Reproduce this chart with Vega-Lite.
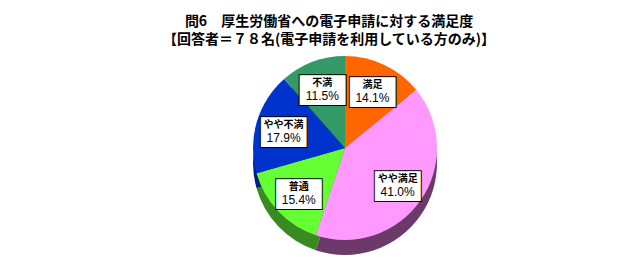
{
  "$schema": "https://vega.github.io/schema/vega-lite/v6.json",
  "width": 576,
  "height": 184,
  "autosize": "none",
  "padding": {"left": 57, "top": 56, "right": 0, "bottom": 38},
  "background": "white",
  "config": {"view": {"stroke": null}},
  "title": {
    "text": ["問6　厚生労働省への電子申請に対する満足度", "【回答者＝７８名(電子申請を利用している方のみ)】"],
    "font": "Noto Sans CJK JP",
    "fontSize": 14,
    "fontWeight": "bold",
    "color": "black",
    "lineHeight": 18,
    "offset": 9,
    "dx": -16,
    "anchor": "middle"
  },
  "data": {
    "values": [
      {"label": "満足", "pct": 14.1, "ord": 1},
      {"label": "やや満足", "pct": 41.0, "ord": 2},
      {"label": "普通", "pct": 15.4, "ord": 3},
      {"label": "やや不満", "pct": 17.9, "ord": 4},
      {"label": "不満", "pct": 11.5, "ord": 5}
    ]
  },
  "transform": [
    {"calculate": "format(datum.pct, '.1f') + '%'", "as": "ptxt"}
  ],
  "encoding": {
    "theta": {"field": "pct", "type": "quantitative", "stack": true},
    "order": {"field": "ord", "type": "quantitative"}
  },
  "layer": [
    {
      "mark": {"type": "arc", "outerRadius": 92, "yOffset": 15},
      "encoding": {
        "color": {
          "field": "label",
          "type": "nominal",
          "scale": {
            "domain": ["満足", "やや満足", "普通", "やや不満", "不満"],
            "range": ["#993d00", "#6b3a6b", "#3a8a22", "#001f7a", "#1f5c3d"]
          },
          "legend": null
        }
      }
    },
    {
      "mark": {"type": "arc", "outerRadius": 92},
      "encoding": {
        "color": {
          "field": "label",
          "type": "nominal",
          "scale": {
            "domain": ["満足", "やや満足", "普通", "やや不満", "不満"],
            "range": ["#ff6600", "#ff99ff", "#66ff33", "#0033cc", "#339966"]
          },
          "legend": null
        }
      }
    },
    {
      "mark": {"type": "text", "text": "███", "font": "DejaVu Sans Mono", "fontSize": 25, "fill": "white", "stroke": "black", "strokeWidth": 2, "radius": 64, "baseline": "middle", "align": "center", "dy": 3}
    },
    {
      "mark": {"type": "text", "text": "███", "font": "DejaVu Sans Mono", "fontSize": 25, "fill": "white", "radius": 64, "baseline": "middle", "align": "center", "dy": 3}
    },
    {
      "mark": {"type": "text", "font": "Noto Sans CJK JP", "fontSize": 10, "fontWeight": "bold", "color": "black", "radius": 64, "baseline": "middle", "align": "center", "dy": -5},
      "encoding": {"text": {"field": "label"}}
    },
    {
      "mark": {"type": "text", "font": "Liberation Sans", "fontSize": 12, "fontWeight": "normal", "color": "black", "radius": 64, "baseline": "middle", "align": "center", "dy": 8},
      "encoding": {"text": {"field": "ptxt"}}
    }
  ],
  "resolve": {"scale": {"color": "independent"}}
}
